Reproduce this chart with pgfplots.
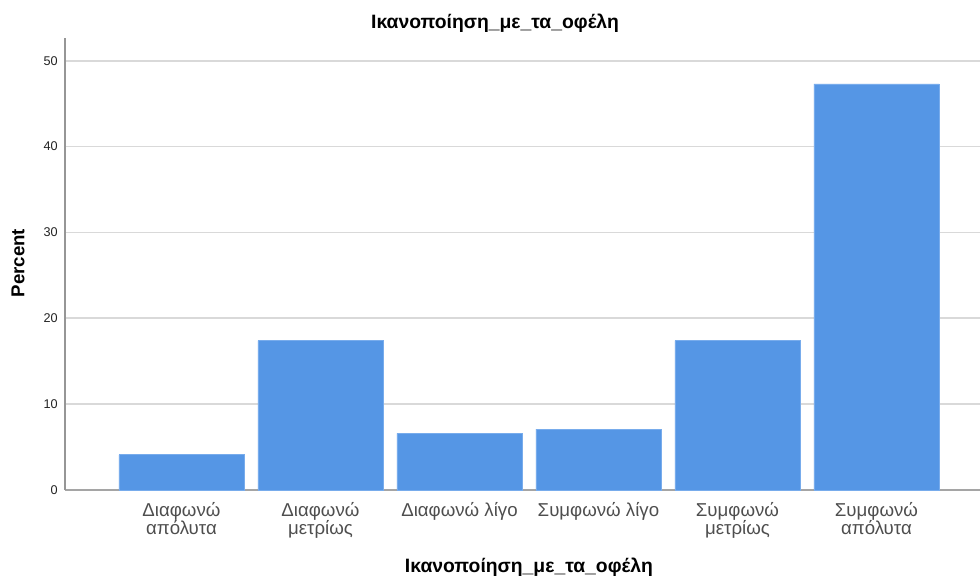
\documentclass[border=0pt]{standalone}
\usepackage{pgfplots}
\pgfplotsset{compat=1.18}
\usepackage{fontspec}
\setmainfont{Liberation Sans}
\definecolor{barblue}{RGB}{85,150,229}
\definecolor{baredge}{RGB}{120,172,236}
\definecolor{gridgray}{RGB}{217,217,217}
\definecolor{axgray}{RGB}{150,150,150}
\definecolor{txt}{RGB}{34,34,34}
\begin{document}
\begin{tikzpicture}
\useasboundingbox (0,0) rectangle (735pt,433.5pt);
\begin{axis}[
  at={(48.75pt,66pt)}, anchor=south west,
  scale only axis, width=686.25pt, height=339pt,
  xmin=-0.838, xmax=5.745, ymin=0, ymax=52.65,
  axis x line*=bottom, axis y line*=left,
  x axis line style={draw=axgray!110!black, line width=1pt, -},
  y axis line style={draw=axgray, line width=1.2pt, -},
  ytick={0,10,20,30,40,50},
  xtick={0,1,2,3,4,5},
  xticklabels={{Διαφωνώ\\απόλυτα},{Διαφωνώ\\μετρίως},{Διαφωνώ λίγο},{Συμφωνώ λίγο},{Συμφωνώ\\μετρίως},{Συμφωνώ\\απόλυτα}},
  major tick length=0pt,
  ymajorgrids, grid style={draw=gridgray, line width=1.3pt},
  /pgf/number format/assume math mode=true,
  yticklabel style={font=\fontsize{9.5}{11}\selectfont, text=txt, xshift=-2pt},
  xticklabel style={font=\fontsize{14}{14}\selectfont, text=txt!80!white, align=center, anchor=north, yshift=-5.5pt},
  title={\textbf{Ικανοποίηση\_με\_τα\_οφέλη}},
  title style={font=\fontsize{14.5}{16}\selectfont, at={(axis description cs:0.470,1.035)}, anchor=center, yshift=-6.75pt},
  xlabel={\textbf{Ικανοποίηση\_με\_τα\_οφέλη}},
  xlabel style={font=\fontsize{14.5}{16}\selectfont, at={(axis description cs:0.507,-0.170)}, anchor=center},
  ylabel={\textbf{Percent}},
  ylabel style={font=\fontsize{14}{16}\selectfont, at={(axis description cs:-0.0514,0.502)}, anchor=center, rotate=0},
  ybar, bar width=0.9, bar shift=0pt,
  clip=false,
]
\addplot[fill=barblue, draw=baredge, line width=0.6pt] coordinates {
  (0,4.1) (1,17.4) (2,6.6) (3,7.1) (4,17.4) (5,47.3)
};
\end{axis}
\end{tikzpicture}
\end{document}
